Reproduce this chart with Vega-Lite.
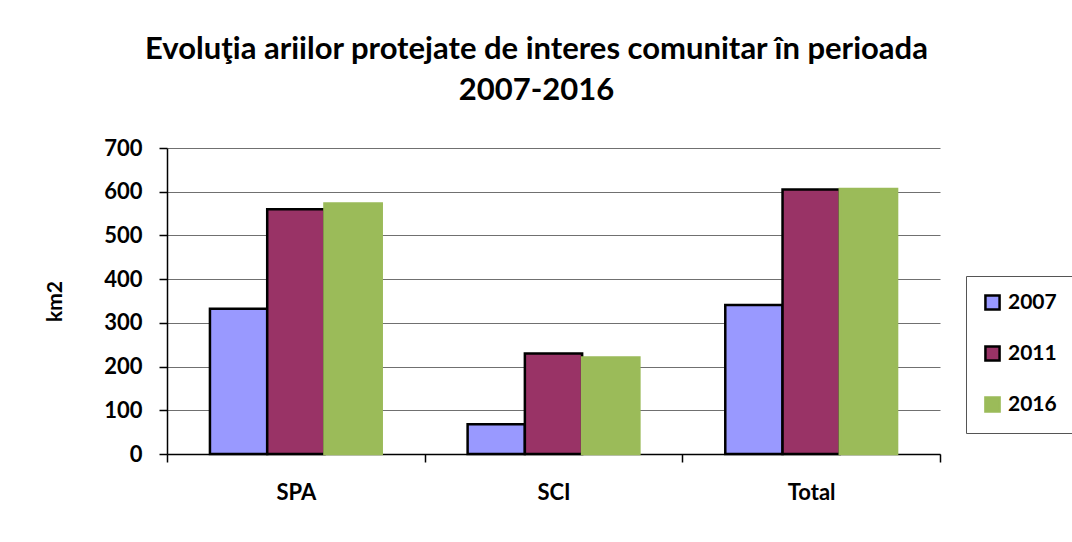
{
  "$schema": "https://vega.github.io/schema/vega-lite/v6.json",
  "autosize": "none",
  "width": 773,
  "height": 306,
  "padding": {"left": 167, "top": 148, "right": 132, "bottom": 88},
  "background": "white",
  "title": {
    "text": ["Evoluţia ariilor protejate de interes comunitar în perioada", "2007-2016"],
    "font": "Lato",
    "fontSize": 31,
    "fontWeight": "bold",
    "color": "#000",
    "anchor": "middle",
    "frame": "group",
    "dx": -17,
    "offset": 30,
    "lineHeight": 41
  },
  "data": {
    "values": [
      {"zona": "SPA", "an": "2007", "km2": 332},
      {"zona": "SPA", "an": "2011", "km2": 560},
      {"zona": "SPA", "an": "2016", "km2": 573},
      {"zona": "SCI", "an": "2007", "km2": 68},
      {"zona": "SCI", "an": "2011", "km2": 230},
      {"zona": "SCI", "an": "2016", "km2": 221},
      {"zona": "Total", "an": "2007", "km2": 341},
      {"zona": "Total", "an": "2011", "km2": 605},
      {"zona": "Total", "an": "2016", "km2": 606}
    ]
  },
  "mark": {"type": "bar", "strokeWidth": 2.5},
  "encoding": {
    "x": {
      "field": "zona",
      "type": "nominal",
      "sort": ["SPA", "SCI", "Total"],
      "scale": {"paddingInner": 0, "paddingOuter": 0},
      "axis": {
        "title": null,
        "labelAngle": 0,
        "labelFont": "Lato",
        "labelFontSize": 22,
        "labelFontWeight": "bold",
        "labelColor": "#000",
        "labelPadding": 20,
        "domainColor": "#000",
        "domainWidth": 1.5,
        "tickColor": "#000",
        "tickSize": 8,
        "tickWidth": 1.5,
        "tickBand": "extent",
        "grid": false
      }
    },
    "xOffset": {"field": "an", "type": "nominal", "scale": {"paddingInner": 0, "paddingOuter": 0.75}},
    "y": {
      "field": "km2",
      "type": "quantitative",
      "scale": {"domain": [0, 700], "nice": false},
      "axis": {
        "title": "km2",
        "titleFont": "Lato",
        "titleFontSize": 21,
        "titleFontWeight": "bold",
        "titleColor": "#000",
        "titlePadding": 38,
        "values": [0, 100, 200, 300, 400, 500, 600, 700],
        "labelFont": "Lato",
        "labelFontSize": 22,
        "labelFontWeight": "bold",
        "labelColor": "#000",
        "labelPadding": 17,
        "domainColor": "#000",
        "domainWidth": 1.5,
        "tickColor": "#000",
        "tickSize": 8,
        "tickWidth": 1.5,
        "grid": true,
        "gridColor": "#707070",
        "gridWidth": 1.2
      }
    },
    "color": {
      "field": "an",
      "type": "nominal",
      "scale": {"domain": ["2007", "2011", "2016"], "range": ["#9999FF", "#993366", "#9BBB59"]},
      "legend": {
        "title": null,
        "orient": "none",
        "legendX": 799,
        "legendY": 128,
        "direction": "vertical",
        "symbolType": "square",
        "symbolSize": 200,
        "symbolStrokeWidth": 2.5,
        "labelFont": "Lato",
        "labelFontSize": 21,
        "labelFontWeight": "bold",
        "labelColor": "#000",
        "labelOffset": 5,
        "rowPadding": 26,
        "padding": 16,
        "strokeColor": "#555",
        "fillColor": "white",
        "symbolOpacity": 1
      }
    },
    "stroke": {
      "field": "an",
      "type": "nominal",
      "scale": {"domain": ["2007", "2011", "2016"], "range": ["#000000", "#000000", "#9BBB59"]},
      "legend": null
    }
  },
  "config": {
    "view": {"stroke": null}
  }
}
